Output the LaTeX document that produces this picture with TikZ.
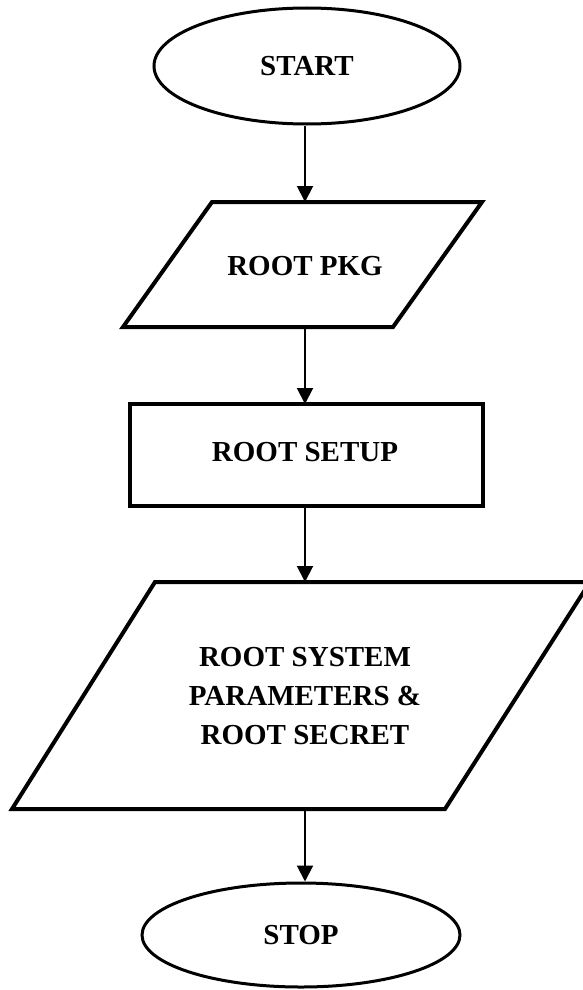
\documentclass[tikz,border=0pt]{standalone}
\usepackage{fontspec}
\setmainfont{Liberation Serif}
\usetikzlibrary{arrows.meta,shapes.geometric}
\begin{document}
\begin{tikzpicture}[x=1pt,y=-1pt,
  label/.style={font=\bfseries\fontsize{29}{39}\selectfont,align=center,inner sep=0pt},
  term/.style={draw,line width=3pt,ellipse,inner sep=0pt},
  outline/.style={draw,line width=4pt,line join=miter},
  flow/.style={line width=2pt,-{Triangle[width=16pt,length=16pt]}}]
\useasboundingbox (0,0) rectangle (583,990);

% terminals
\node[term,minimum width=306pt,minimum height=116pt] (start) at (307,66) {};
\node[label] (starttxt) at (307,66) {START};

% input: package
\draw[outline] (212,202) -- (482,202) -- (393,327) -- (123,327) -- cycle;
\coordinate (pkgin) at (305,202);
\coordinate (pkgout) at (305,327);
\node[label] (pkg) at (305,266) {ROOT PKG};

% process: setup
\draw[outline] (130,404) rectangle (483,506);
\coordinate (setupin) at (305,404);
\coordinate (setupout) at (305,506);
\node[label] (setup) at (305,452) {ROOT SETUP};

% output: parameters
\draw[outline] (155,582) -- (590,582) -- (445,809) -- (12,809) -- cycle;
\coordinate (parin) at (305,582);
\coordinate (parout) at (305,809);
\node[label] (par) at (305,696) {ROOT SYSTEM\\PARAMETERS \&\\ROOT SECRET};

\node[term,minimum width=318pt,minimum height=104pt] (stop) at (301,935) {};
\node[label] (stoptxt) at (301,935) {STOP};

% connectors
\draw[flow] (start.south -| pkgin) -- (pkgin);
\draw[flow] (pkgout) -- (setupin);
\draw[flow] (setupout) -- (parin);
\draw[flow] (parout) -- (stop.north -| parout);
\end{tikzpicture}
\end{document}
